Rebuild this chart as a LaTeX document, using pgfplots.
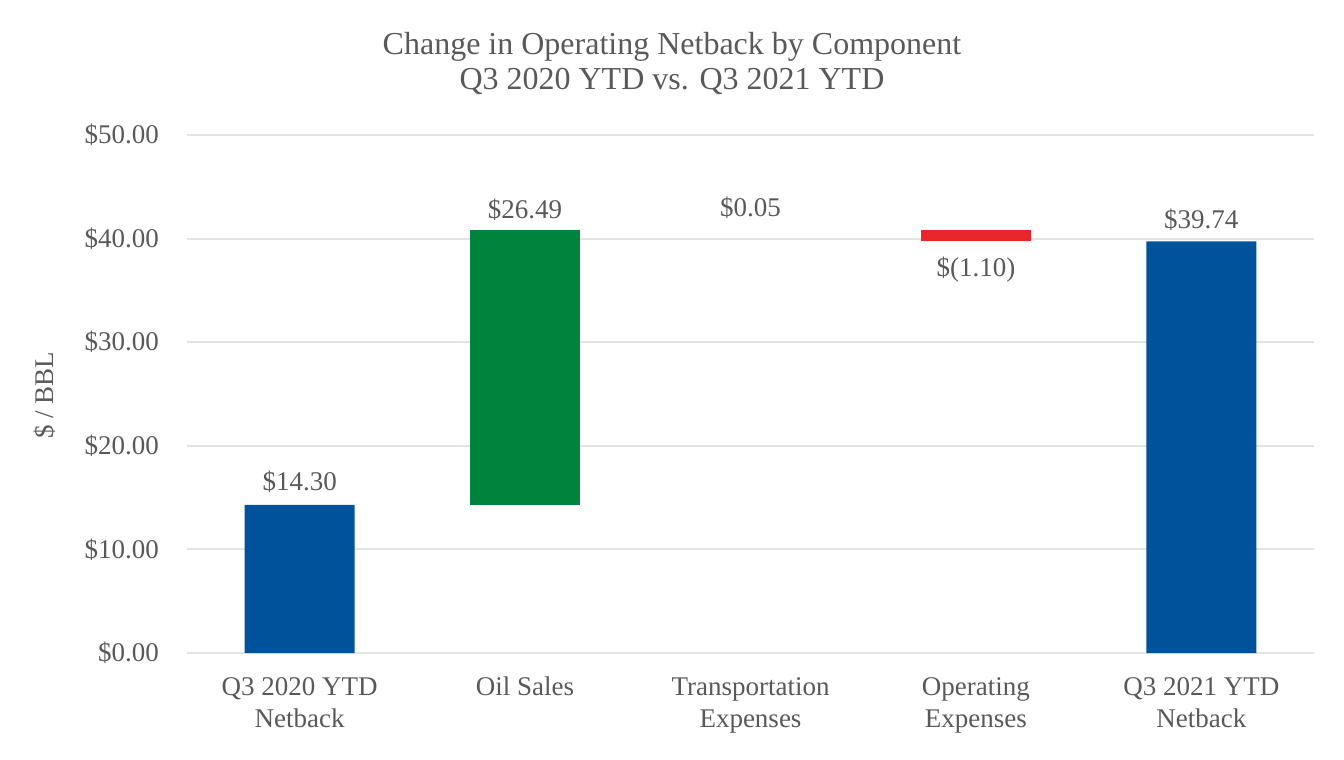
\documentclass[border=0pt]{standalone}
\usepackage{pgfplots}
\pgfplotsset{compat=1.18}
\usepackage{fontspec}
\setmainfont{Liberation Serif}
\definecolor{txt}{HTML}{595959}
\definecolor{gridc}{HTML}{E4E4E4}
\definecolor{barblue}{HTML}{00539B}
\definecolor{bargreen}{HTML}{00843D}
\definecolor{barred}{HTML}{E8262A}
\tikzset{lbl/.style={font=\fontsize{13.5}{16}\selectfont, text=txt}}
\begin{document}
\begin{tikzpicture}
\path[use as bounding box] (-93.5pt,-53.5pt) rectangle (578.5pt,326.5pt);
\begin{axis}[
  at={(0,0)}, anchor=south west,
  scale only axis, width=563.5pt, height=259pt,
  ybar stacked, bar width=55pt,
  xmin=-0.5, xmax=4.5, ymin=0, ymax=50,
  axis line style={draw=none},
  major tick length=0pt,
  ymajorgrids, grid style={gridc, line width=1pt},
  xtick={0,1,2,3,4},
  xticklabels={{\strut Q3 2020 YTD\\Netback\strut}, {\strut Oil Sales\\\strut}, {\strut Transportation\\Expenses\strut}, {\strut Operating\\Expenses\strut}, {\strut Q3 2021 YTD\\Netback\strut}},
  xticklabel style={align=center, anchor=center, yshift=-26pt, lbl, font=\fontsize{13.5}{16.3}\selectfont},
  ytick={0,10,20,30,40,50},
  yticklabels={\$0.00,\$10.00,\$20.00,\$30.00,\$40.00,\$50.00},
  yticklabel style={lbl, xshift=-10.5pt},
  clip=false,
]
\addplot[draw=none, fill=white, fill opacity=0] coordinates {(0,0) (1,14.30) (2,40.79) (3,39.74) (4,0)};
\addplot[draw=none, fill=barblue] coordinates {(0,14.30) (1,0) (2,0) (3,0) (4,39.74)};
\addplot[draw=none, fill=bargreen] coordinates {(0,0) (1,26.49) (2,0) (3,0) (4,0)};
\addplot[draw=none, fill=bargreen, fill opacity=0] coordinates {(0,0) (1,0) (2,0.05) (3,0) (4,0)};
\addplot[draw=none, fill=barred] coordinates {(0,0) (1,0) (2,0) (3,1.10) (4,0)};
\node[lbl] at (axis cs:0,16.5) {\$14.30};
\node[lbl] at (axis cs:1,42.8) {\$26.49};
\node[lbl] at (axis cs:2,43.0) {\$0.05};
\node[lbl] at (axis cs:3,37.0) {\$(1.10)};
\node[lbl] at (axis cs:4,41.8) {\$39.74};
\end{axis}
\node[rotate=90, lbl] at (-71pt,129pt) {\$ / BBL};
\node[align=center, font=\fontsize{16}{17.5}\selectfont, text=txt] at (242.5pt,295pt) {Change in Operating Netback by Component\\Q3 2020 YTD vs. Q3 2021 YTD};
\end{tikzpicture}
\end{document}
